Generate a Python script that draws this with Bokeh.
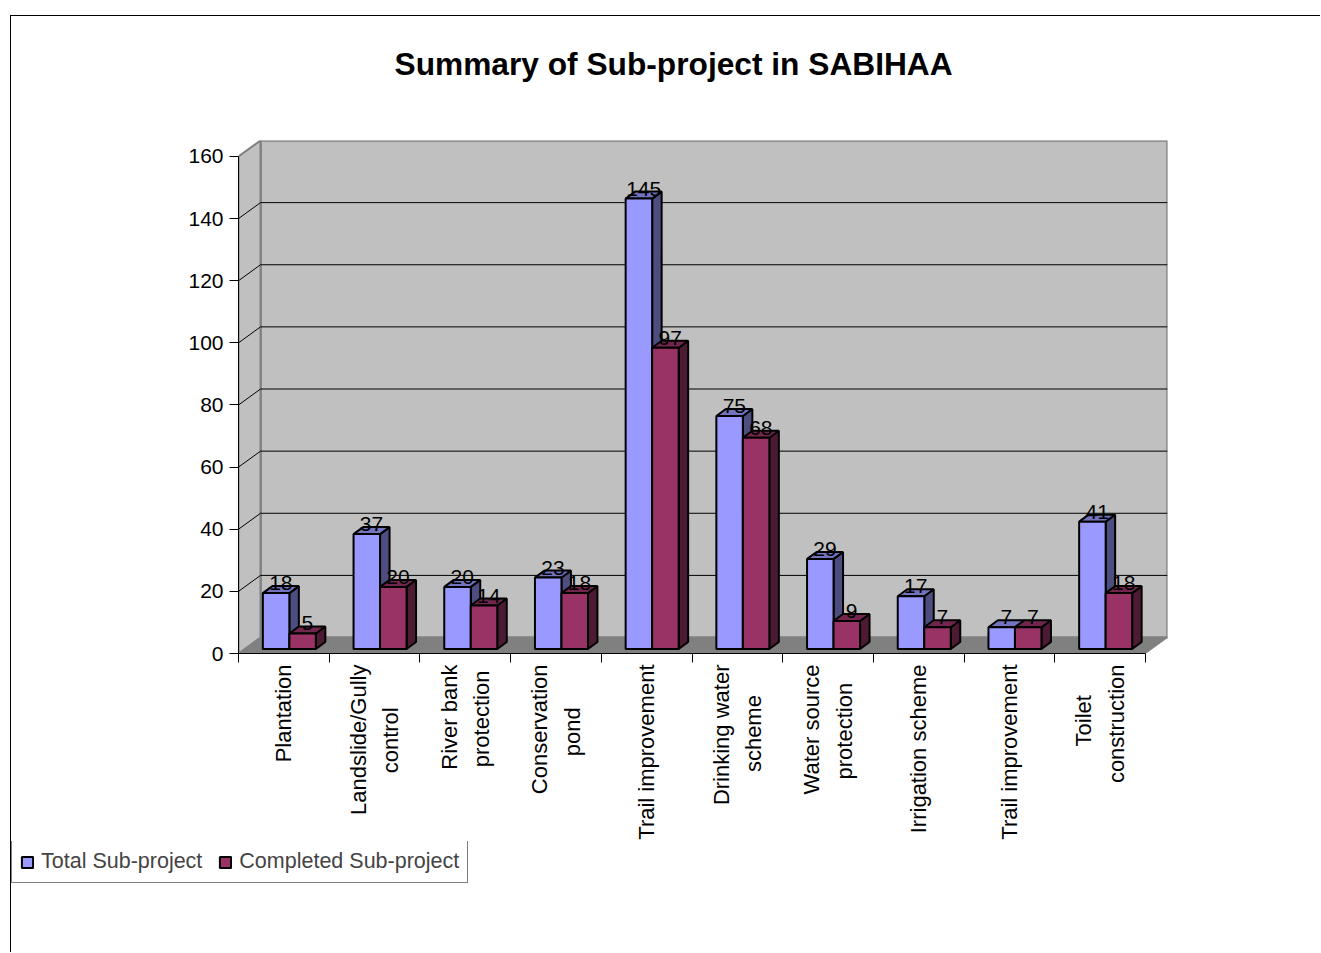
import math
from bokeh.plotting import figure
from bokeh.models import FixedTicker, Legend, LegendItem, Range1d, Title
from bokeh.embed import file_html
from bokeh.resources import INLINE
from bokeh.core.properties import value

# ---------------- data ----------------
title_text = "Summary of Sub-project in SABIHAA"
# category label lines (the shorter line of a pair is centred under the longer one)
category_lines = [
    ["Plantation"],
    ["Landslide/Gully", "control"],
    ["River bank", "protection"],
    ["Conservation", "pond"],
    ["Trail improvement"],
    ["Drinking water", "scheme"],
    ["Water source", "protection"],
    ["Irrigation scheme"],
    ["Trail improvement"],
    ["Toilet", "construction"],
]
total = [18, 37, 20, 23, 145, 75, 29, 17, 7, 41]
completed = [5, 20, 14, 18, 97, 68, 9, 7, 7, 18]
series_names = ["Total Sub-project", "Completed Sub-project"]
y_ticks = [0, 20, 40, 60, 80, 100, 120, 140, 160]

# ---------------- style / geometry ----------------
FONT = "Liberation Sans"
FS = 21
FS_CAT = 22
# approximate glyph advance widths (em/1000) to centre the lines of a label
ADV = {c: 556 for c in "abdeghnopqu0123456789"}
ADV.update({"c": 500, "k": 500, "s": 500, "v": 500, "y": 500, "x": 500, "z": 500,
            "f": 278, "t": 278, "i": 222, "j": 222, "l": 222, "r": 333, "m": 833,
            "w": 722, " ": 278, "/": 278, "C": 722, "D": 722, "G": 778, "I": 278,
            "L": 556, "P": 667, "R": 722, "T": 611, "W": 944})


def tw(s):
    return sum(ADV.get(c, 556) for c in s) * FS_CAT / 1000.0


def label_text(lines):
    if len(lines) == 1:
        return lines[0]
    w = max(tw(l) for l in lines)
    out = []
    for l in lines:
        pad = int(round((w - tw(l)) / 2 / tw(" ")))
        out.append(l + " " * pad)
    return "\n".join(out)


categories = [label_text(ls) for ls in category_lines]

FRAME_W, FRAME_H = 929, 514      # frame in px (back wall incl.)
FRONT_W, FRONT_H = 907, 498      # front plane in px
Y_MAX = y_ticks[-1]
n = len(categories)
px_x = FRONT_W / n
px_y = FRONT_H / Y_MAX
x0 = -0.5
x1 = x0 + FRAME_W / px_x
y1 = FRAME_H / px_y
wdx = (FRAME_W - FRONT_W) / px_x   # wall depth offset (data units)
wdy = (FRAME_H - FRONT_H) / px_y
box, boy = 5.5 / px_x, 4.5 / px_y  # bar plane offset
bw = 26.5 / px_x                   # bar width
bdx, bdy = 9.5 / px_x, 7.0 / px_y  # bar depth
LW = 2

BLUE = ("#9999FF", "#7373BF", "#4D4D80")
RED = ("#993366", "#73264D", "#4D1A33")

MAIN_H = 826
p = figure(width=1310, height=MAIN_H, x_range=Range1d(x0, x1), y_range=Range1d(0, y1),
           output_backend="svg", toolbar_location=None,
           min_border_left=227, min_border_right=154, min_border_top=124,
           min_border_bottom=MAIN_H - 124 - FRAME_H,
           background_fill_color="white", border_fill_color="white", outline_line_color=None)
p.margin = (15, 0, 0, 10)
p.styles = {"border-top": "1px solid black", "border-left": "1px solid black"}
p.xgrid.visible = False
p.ygrid.visible = False

# spacer between the plot area and the title
p.add_layout(Title(text=" ", text_font_size="10px", standoff=41), "above")

p.title.text = title_text
p.title.align = "left"
p.title.offset = 156
p.title.standoff = 10
p.title.text_font = FONT
p.title.text_font_size = "31.7px"
p.title.text_font_style = "bold"
p.title.text_color = "black"

# walls and floor
xl, xr = x0, x0 + n
p.patch([xl, xr, xr + wdx, xl + wdx], [0, 0, wdy, wdy],
        fill_color="#808080", line_color="#808080", line_width=1)
p.patch([xl + wdx, xr + wdx, xr + wdx, xl + wdx], [wdy, wdy, Y_MAX + wdy, Y_MAX + wdy],
        fill_color="#C0C0C0", line_color="#808080", line_width=2.5)
p.patch([xl, xl + wdx, xl + wdx, xl], [0, wdy, Y_MAX + wdy, Y_MAX],
        fill_color="#C0C0C0", line_color="#808080", line_width=2)

grid_vals = y_ticks[1:-1]
p.segment(x0=[xl + wdx] * len(grid_vals), y0=[v + wdy for v in grid_vals],
          x1=[xr + wdx] * len(grid_vals), y1=[v + wdy for v in grid_vals],
          line_color="black", line_width=1)
p.segment(x0=[xl] * len(grid_vals), y0=grid_vals,
          x1=[xl + wdx] * len(grid_vals), y1=[v + wdy for v in grid_vals],
          line_color="black", line_width=1)


def bar_lefts(side):
    if side == 0:
        return [i + box - bw for i in range(n)]
    return [i + box for i in range(n)]


def draw_series(vals, colors, side):
    lefts = bar_lefts(side)
    rights = [l + bw for l in lefts]
    tops = [v + boy for v in vals]
    p.patches([[r, r + bdx, r + bdx, r] for r in rights],
              [[boy, boy + bdy, t + bdy, t] for t in tops],
              fill_color=colors[2], line_color="black", line_width=LW)
    p.patches([[l, r, r + bdx, l + bdx] for l, r in zip(lefts, rights)],
              [[t, t, t + bdy, t + bdy] for t in tops],
              fill_color=colors[1], line_color="black", line_width=LW)
    p.quad(left=lefts, right=rights, bottom=[boy] * n, top=tops,
           fill_color=colors[0], line_color="black", line_width=LW)


def draw_values(vals, side):
    lefts = bar_lefts(side)
    p.text(x=[l + bw / 2 + bdx / 2 for l in lefts], y=[v + boy for v in vals],
           text=[str(v) for v in vals],
           text_align="center", text_baseline="middle", y_offset=-10,
           text_font=value(FONT), text_font_size=f"{FS}px", text_color="black")


draw_series(total, BLUE, 0)
draw_series(completed, RED, 1)
draw_values(total, 0)
draw_values(completed, 1)

# axes
xa = p.xaxis[0]
xa.ticker = FixedTicker(ticks=list(range(n)), minor_ticks=[i - 0.5 for i in range(n + 1)])
xa.major_label_overrides = {i: c for i, c in enumerate(categories)}
xa.major_label_orientation = math.pi / 2
xa.bounds = (xl, xr)
xa.major_tick_line_color = None
xa.major_tick_out = 0
xa.major_tick_in = 0
xa.minor_tick_out = 9
xa.minor_tick_in = 0
xa.minor_tick_line_color = "black"
xa.axis_line_color = "black"
xa.major_label_standoff = 2
xa.major_label_text_font = FONT
xa.major_label_text_font_size = f"{FS_CAT}px"
xa.major_label_text_color = "black"
xa.major_label_text_line_height = 1.3

ya = p.yaxis[0]
ya.ticker = FixedTicker(ticks=y_ticks)
ya.bounds = (0, Y_MAX)
ya.major_tick_out = 9
ya.major_tick_in = 0
ya.minor_tick_line_color = None
ya.axis_line_color = "black"
ya.major_tick_line_color = "black"
ya.major_label_standoff = 6
ya.major_label_text_font = FONT
ya.major_label_text_font_size = f"{FS}px"
ya.major_label_text_color = "black"

# legend strip (second root underneath the chart)
LEG_H = 953 - 16 - MAIN_H
p2 = figure(width=1310, height=LEG_H, x_range=Range1d(0, 1), y_range=Range1d(0, 1),
            output_backend="svg", toolbar_location=None, x_axis_location=None,
            y_axis_location=None, min_border=0, outline_line_color=None, title=None,
            background_fill_color="white", border_fill_color="white")
p2.margin = (0, 0, 0, 10)
p2.styles = {"border-left": "1px solid black"}
p2.xgrid.visible = False
p2.ygrid.visible = False
nan = float("nan")
sw_t = p2.quad(left=[nan], right=[nan], bottom=[nan], top=[nan],
               fill_color=BLUE[0], line_color="black", line_width=LW)
sw_c = p2.quad(left=[nan], right=[nan], bottom=[nan], top=[nan],
               fill_color=RED[0], line_color="black", line_width=LW)
legend = Legend(items=[LegendItem(label=series_names[0], renderers=[sw_t]),
                       LegendItem(label=series_names[1], renderers=[sw_c])],
                location=(0, LEG_H - 42), orientation="horizontal", margin=0, padding=8,
                spacing=16, glyph_width=14, glyph_height=14, label_standoff=7,
                label_height=24, label_text_font=FONT, label_text_font_size="21.5px",
                border_line_color="black", border_line_width=1,
                background_fill_color="white", background_fill_alpha=1.0)
p2.add_layout(legend)

open("out.html", "w").write(file_html([p, p2], INLINE))
